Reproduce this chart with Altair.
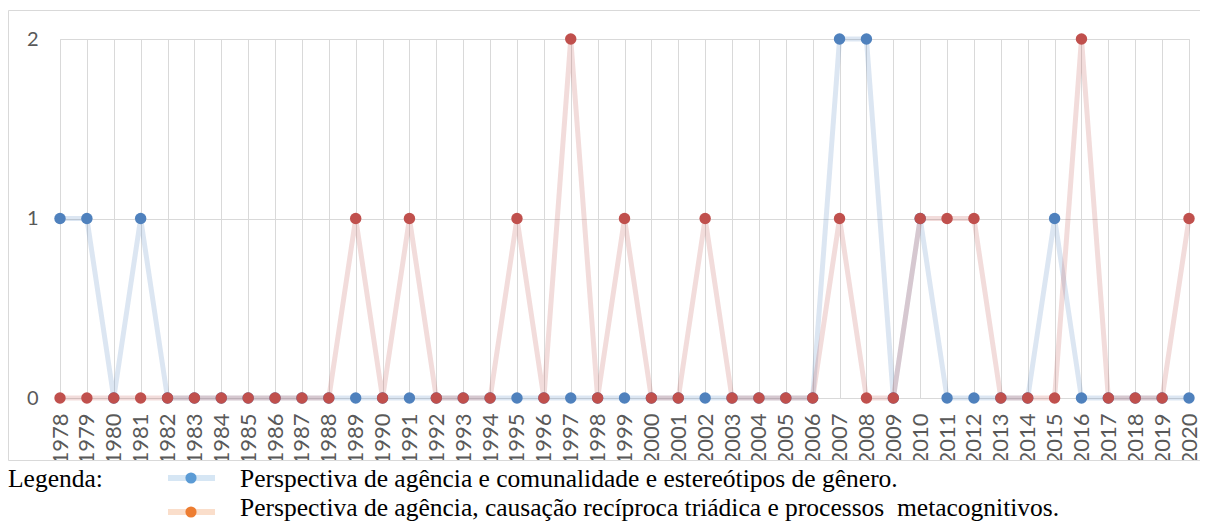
import altair as alt
import pandas as pd

# ---- data ----
anos = ["1978", "1979", "1980", "1981", "1982", "1983", "1984", "1985", "1986", "1987",
        "1988", "1989", "1990", "1991", "1992", "1993", "1994", "1995", "1996", "1997",
        "1998", "1999", "2000", "2001", "2002", "2003", "2004", "2005", "2006", "2007",
        "2008", "2009", "2010", "2011", "2012", "2013", "2014", "2015", "2016", "2017",
        "2018", "2019", "2020"]

comunalidade = [1, 1, 0, 1, 0, 0, 0, 0, 0, 0,
                0, 0, 0, 0, 0, 0, 0, 0, 0, 0,
                0, 0, 0, 0, 0, 0, 0, 0, 0, 2,
                2, 0, 1, 0, 0, 0, 0, 1, 0, 0,
                0, 0, 0]

triadica = [0, 0, 0, 0, 0, 0, 0, 0, 0, 0,
            0, 1, 0, 1, 0, 0, 0, 1, 0, 2,
            0, 1, 0, 0, 1, 0, 0, 0, 0, 1,
            0, 0, 1, 1, 1, 0, 0, 0, 2, 0,
            0, 0, 1]

serie_nomes = [
    "Perspectiva de agência e comunalidade e estereótipos de gênero.",
    "Perspectiva de agência, causação recíproca triádica e processos\u00a0 metacognitivos.",
]
y_max = 2
legenda_titulo = "Legenda:"

cores_marcador = ["#4f81bd", "#c0504d"]
cores_legenda = ["#5b9bd5", "#ed7d31"]

df = pd.DataFrame({
    "ano": anos + anos,
    "valor": comunalidade + triadica,
    "serie": [serie_nomes[0]] * len(anos) + [serie_nomes[1]] * len(anos),
})

grid_color = "#d9d9d9"
label_color = "#595959"

x_enc = alt.X(
    "ano:O",
    sort=anos,
    scale=alt.Scale(type="point", padding=0),
    axis=alt.Axis(title=None, labelAngle=270, grid=True, ticks=False, domain=False,
                  labelFont="Lato", labelFontSize=22, labelColor=label_color,
                  labelPadding=15, gridColor=grid_color, gridWidth=1),
)
y_enc = alt.Y(
    "valor:Q",
    scale=alt.Scale(domain=[0, y_max], nice=False),
    axis=alt.Axis(title=None, tickCount=2, tickMinStep=1, format="d", domain=False, ticks=False,
                  labelOverlap=False, labelFont="Lato", labelFontSize=20, labelColor=label_color,
                  labelPadding=22, gridColor=grid_color, gridWidth=1),
)

base = alt.Chart(df)


def line_layer(i):
    return base.transform_filter(alt.datum.serie == serie_nomes[i]).mark_line(
        strokeWidth=5, strokeOpacity=0.2, color=cores_marcador[i]
    ).encode(x=x_enc, y=y_enc)


def point_layer(i):
    return base.transform_filter(alt.datum.serie == serie_nomes[i]).mark_circle(
        size=130, opacity=1, color=cores_marcador[i]
    ).encode(x=x_enc, y=y_enc)


one = pd.DataFrame({"k": [0]})

mask = alt.Chart(one).mark_rect(color="white").encode(
    x=alt.value(-52), x2=alt.value(1141), y=alt.value(422), y2=alt.value(428))

frame = alt.Chart(one).mark_rect(filled=False, stroke=grid_color, strokeWidth=1).encode(
    x=alt.value(-51.5), x2=alt.value(1140.5), y=alt.value(-28.5), y2=alt.value(421.5))

titulo = alt.Chart(pd.DataFrame({"t": [legenda_titulo]})).mark_text(
    font="Liberation Serif", fontSize=25.5, color="black", align="left", baseline="alphabetic"
).encode(x=alt.value(-52), y=alt.value(448), text="t:N")

leg_layers = []
row_sym_y = [439, 473]
row_txt_y = [448, 477]
for i in range(2):
    leg_layers.append(alt.Chart(one).mark_rule(strokeWidth=6, color=cores_legenda[i], opacity=0.25).encode(
        x=alt.value(108), x2=alt.value(155), y=alt.value(row_sym_y[i])))
    leg_layers.append(alt.Chart(one).mark_circle(size=125, opacity=1, color=cores_legenda[i]).encode(
        x=alt.value(131), y=alt.value(row_sym_y[i])))
    leg_layers.append(alt.Chart(pd.DataFrame({"t": [serie_nomes[i]]})).mark_text(
        font="Liberation Serif", fontSize=25.5, color="black", align="left", baseline="alphabetic"
    ).encode(x=alt.value(180), y=alt.value(row_txt_y[i]), text="t:N"))

chart = alt.layer(
    line_layer(0), line_layer(1), point_layer(0), point_layer(1),
    mask, frame, titulo, *leg_layers,
).properties(
    width=1129, height=359,
    autosize=alt.AutoSizeParams(type="none"),
    padding={"left": 52, "top": 31, "right": 11, "bottom": 123},
).configure_view(stroke=None).configure(background="white")

chart.save("out.html", embed_options={"renderer": "svg", "actions": False})
